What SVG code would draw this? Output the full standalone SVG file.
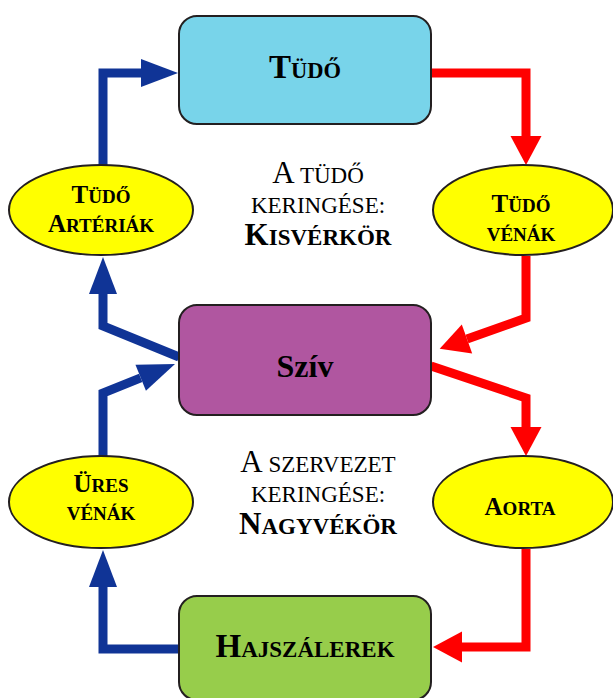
<svg xmlns="http://www.w3.org/2000/svg" width="613" height="698" viewBox="0 0 613 698">
<style>
.box{stroke:#231f20;stroke-width:2}
.ell{fill:#ffff00;stroke:#231f20;stroke-width:2}
text{font-family:"Liberation Serif","Times New Roman",serif;fill:#000;text-anchor:middle}
.b{font-weight:bold}
.blue{fill:none;stroke:#103496;stroke-width:9;stroke-linejoin:miter}
.red{fill:none;stroke:#ff0000;stroke-width:9;stroke-linejoin:miter}
</style>
<defs>
<marker id="hb" markerUnits="userSpaceOnUse" markerWidth="40" markerHeight="32" refX="0" refY="14" orient="auto" overflow="visible"><path d="M0,0 L37,14 L0,28 Z" fill="#103496"/></marker>
<marker id="hr" markerUnits="userSpaceOnUse" markerWidth="32" markerHeight="32" refX="0" refY="15.5" orient="auto" overflow="visible"><path d="M0,0 L29,15.5 L0,31 Z" fill="#ff0000"/></marker>
</defs>
<rect width="613" height="698" fill="#fff"/>
<g id="connectors">
<path class="blue" d="M103,166 L103,73 L141,73" marker-end="url(#hb)"/>
<path class="blue" d="M179,357 L103,326 L103,294" marker-end="url(#hb)"/>
<path class="blue" d="M103,456 L103,393 L140.7,377.8" marker-end="url(#hb)"/>
<path class="blue" d="M179,649 L103,649 L103,587" marker-end="url(#hb)"/>
<path class="red" d="M431,73 L526,73 L526,136" marker-end="url(#hr)"/>
<path class="red" d="M526,256 L526,318 L467,339" marker-end="url(#hr)"/>
<path class="red" d="M431,366 L526,398 L526,427" marker-end="url(#hr)"/>
<path class="red" d="M526,549 L526,647 L462,647" marker-end="url(#hr)"/>
</g>
<g id="tudo">
<rect class="box" x="179" y="16" width="252" height="108" rx="18" fill="#78d4ea"/>
<text class="b" x="305" y="78"><tspan font-size="33">T</tspan><tspan font-size="22.5">ÜDŐ</tspan></text>
</g>
<g id="sziv">
<rect class="box" x="179" y="305" width="252" height="110" rx="18" fill="#b056a0"/>
<text class="b" x="305" y="377" font-size="32">Szív</text>
</g>
<g id="hajszalerek">
<rect class="box" x="179" y="596" width="252" height="104" rx="18" fill="#97cd4b"/>
<text class="b" x="305" y="657"><tspan font-size="33">H</tspan><tspan font-size="23">AJSZÁLEREK</tspan></text>
</g>
<g id="tudo-arteriak">
<ellipse class="ell" cx="101" cy="210" rx="92" ry="45"/>
<text class="b" x="101" y="203"><tspan font-size="25">T</tspan><tspan font-size="19">ÜDŐ</tspan></text>
<text class="b" x="101" y="232"><tspan font-size="25">A</tspan><tspan font-size="19">RTÉRIÁK</tspan></text>
</g>
<g id="tudo-venak">
<ellipse class="ell" cx="523" cy="210" rx="90" ry="45"/>
<text class="b" x="521" y="212"><tspan font-size="25">T</tspan><tspan font-size="19">ÜDŐ</tspan></text>
<text class="b" x="521" y="241" font-size="19">VÉNÁK</text>
</g>
<g id="ures-venak">
<ellipse class="ell" cx="101" cy="502" rx="92" ry="46"/>
<text class="b" x="101" y="492"><tspan font-size="25">Ü</tspan><tspan font-size="19">RES</tspan></text>
<text class="b" x="101" y="520" font-size="19">VÉNÁK</text>
</g>
<g id="aorta">
<ellipse class="ell" cx="523" cy="502" rx="90" ry="46"/>
<text class="b" x="520" y="515"><tspan font-size="25">A</tspan><tspan font-size="19">ORTA</tspan></text>
</g>
<g id="kisverkor-label">
<text x="318" y="183"><tspan font-size="31">A</tspan><tspan font-size="23"> TÜDŐ</tspan></text>
<text x="318" y="213" font-size="23">KERINGÉSE:</text>
<text class="b" x="318" y="245"><tspan font-size="31">K</tspan><tspan font-size="23">ISVÉRKÖR</tspan></text>
</g>
<g id="nagyverkor-label">
<text x="318" y="472"><tspan font-size="31">A</tspan><tspan font-size="23"> SZERVEZET</tspan></text>
<text x="318" y="502" font-size="23">KERINGÉSE:</text>
<text class="b" x="318" y="534"><tspan font-size="31">N</tspan><tspan font-size="23">AGYVÉKÖR</tspan></text>
</g>
</svg>
